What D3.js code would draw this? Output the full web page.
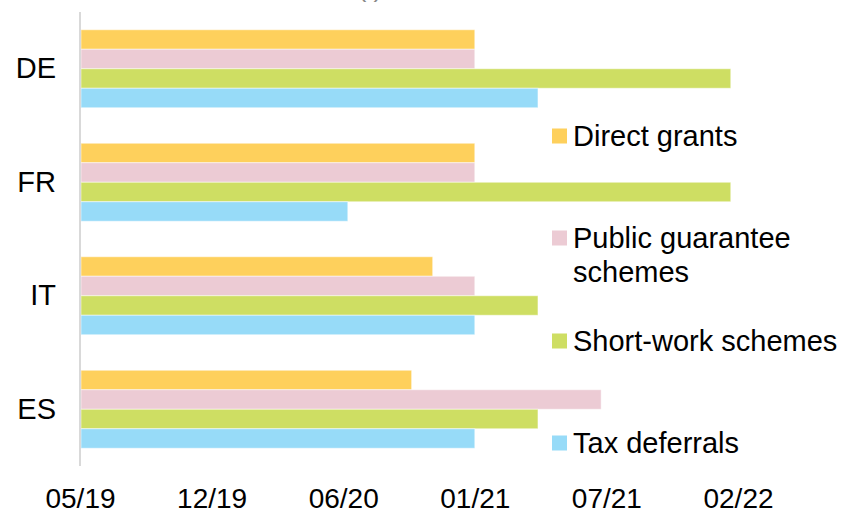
<!DOCTYPE html>
<html>
<head>
<meta charset="utf-8">
<script src="https://cdn.jsdelivr.net/npm/d3@7"></script>
<style>
    body { margin: 0; background: #fff; }
    text { font-family: "Liberation Sans", Arial, sans-serif; }
</style>
</head>
<body>
<div id="chart"></div>
<script>
// Countries (top to bottom)
var countries = ["DE", "FR", "IT", "ES"];
// Measures (series), in bar order inside each group
var measures = ["Direct grants", "Public guarantee schemes", "Short-work schemes", "Tax deferrals"];
var measureColors = ["#FED05C", "#ECCBD4", "#CEDE63", "#97DBF8"];

// End date of each measure, per country
var directGrants   = ["2021-01-09", "2021-01-09", "2020-11-06", "2020-10-05"];
var publicGuar     = ["2021-01-09", "2021-01-09", "2021-01-09", "2021-07-20"];
var shortWork      = ["2022-02-02", "2022-02-02", "2021-04-15", "2021-04-15"];
var taxDeferrals   = ["2021-04-15", "2020-06-30", "2021-01-09", "2021-01-09"];

// Date axis: start and major unit (days), 5 units wide
var axisStart = "2019-05-20";
var axisUnitDays = 200;
var axisUnits = 5;

var parseDate = d3.timeParse("%Y-%m-%d");
var series = [directGrants, publicGuar, shortWork, taxDeferrals];

var data = countries.map(function(c, i){
    return {
        country: c,
        values: measures.map(function(m, j){
            return { measure: m, end: parseDate(series[j][i]), color: measureColors[j] };
        })
    };
});

function ganttLike(){
    var W = 843, H = 514;
    var plot = { left: 80, right: 738, top: 12, bottom: 466 };

    var svg = d3.select("#chart").append("svg")
        .attr("width", W)
        .attr("height", H);

    // clipped title (only bottom visible in picture)
    svg.append("text")
        .attr("x", 370)
        .attr("y", -3)
        .attr("font-size", "26px")
        .attr("text-anchor", "middle")
        .attr("fill", "#888")
        .text("( )");

    var start = parseDate(axisStart);
    var tickDates = d3.range(axisUnits + 1).map(function(i){
        return d3.timeDay.offset(start, i * axisUnitDays);
    });

    var x = d3.scaleTime()
        .domain([tickDates[0], tickDates[tickDates.length - 1]])
        .range([plot.left, plot.right]);

    var y = d3.scaleBand()
        .domain(countries)
        .range([plot.top, plot.bottom])
        .paddingInner(0.3128)
        .paddingOuter(0.1564);

    var ySub = d3.scaleBand()
        .domain(measures)
        .range([0, y.bandwidth()]);

    // bars
    var groups = svg.selectAll("g.country")
        .data(data)
        .enter().append("g")
        .attr("class", "country")
        .attr("transform", function(d){ return "translate(0," + y(d.country) + ")"; });

    groups.selectAll("rect")
        .data(function(d){ return d.values; })
        .enter().append("rect")
        .attr("x", x(start) + 1)
        .attr("y", function(d){ return ySub(d.measure); })
        .attr("width", function(d){ return x(d.end) - x(start) - 1; })
        .attr("height", ySub.bandwidth())
        .attr("fill", function(d){ return d.color; })
        .attr("stroke", "#fff")
        .attr("stroke-opacity", 0.5)
        .attr("stroke-width", 1);

    // vertical axis line
    svg.append("line")
        .attr("x1", plot.left)
        .attr("x2", plot.left)
        .attr("y1", plot.top)
        .attr("y2", plot.bottom)
        .attr("stroke", "#d9d9d9")
        .attr("stroke-width", 2);

    // category labels
    var yAxis = svg.append("g")
        .attr("transform", "translate(" + (plot.left - 24) + ",0)")
        .call(d3.axisLeft(y).tickSize(0).tickPadding(0));
    yAxis.select(".domain").remove();
    yAxis.selectAll("text")
        .attr("font-size", "29px")
        .attr("fill", "#000")
        .style("font-family", "'Liberation Sans', Arial, sans-serif");

    // date labels
    var xAxis = svg.append("g")
        .attr("transform", "translate(0," + plot.bottom + ")")
        .call(d3.axisBottom(x).tickValues(tickDates)
            .tickFormat(d3.timeFormat("%m/%y")).tickSize(0).tickPadding(22));
    xAxis.select(".domain").remove();
    xAxis.selectAll("text")
        .attr("font-size", "28px")
        .attr("fill", "#000")
        .style("font-family", "'Liberation Sans', Arial, sans-serif");

    // legend
    var legendRows = [
        { lines: ["Direct grants"], y: 136 },
        { lines: ["Public guarantee", "schemes"], y: 238 },
        { lines: ["Short-work schemes"], y: 341 },
        { lines: ["Tax deferrals"], y: 443 }
    ];
    legendRows.forEach(function(row, i){
        var g = svg.append("g").attr("transform", "translate(552," + row.y + ")");
        g.append("rect")
            .attr("x", 0)
            .attr("y", -7.5)
            .attr("width", 15)
            .attr("height", 15)
            .attr("fill", measureColors[i]);
        row.lines.forEach(function(t, k){
            g.append("text")
                .attr("x", 21)
                .attr("y", 10 + k * 34)
                .attr("font-size", "29px")
                .attr("fill", "#000")
                .text(t);
        });
    });
}

ganttLike();
</script>
</body>
</html>
